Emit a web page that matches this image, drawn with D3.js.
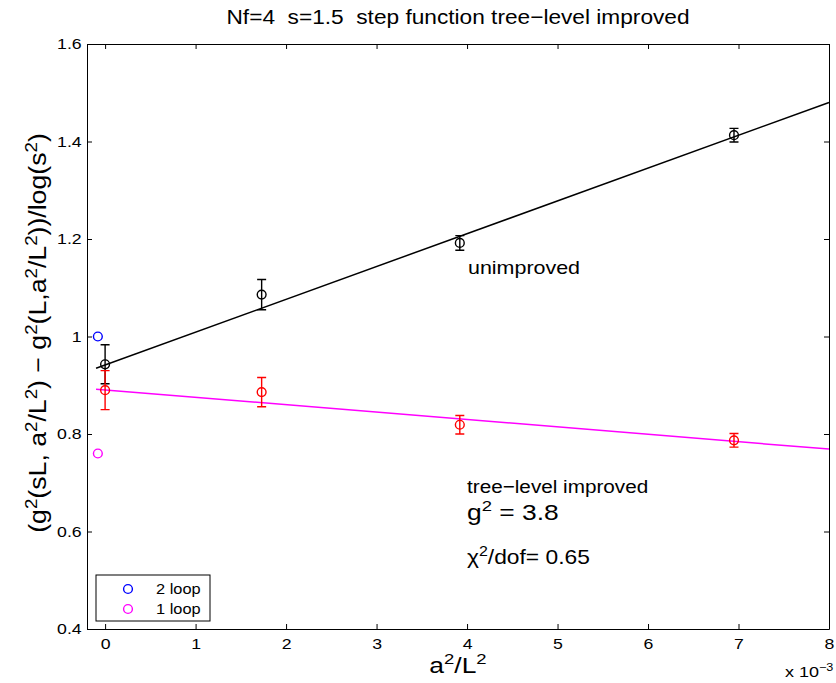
<!DOCTYPE html>
<html lang="en">
<head>
<meta charset="utf-8">
<title>step function tree-level improved</title>
<script src="https://cdn.jsdelivr.net/npm/d3@7"></script>
<style>
  body { margin: 0; background: #fff; }
  svg { display: block; font-family: "Liberation Sans", Arial, Helvetica, sans-serif; }
  .axis path, .axis line { stroke: #000; stroke-width: 1; }
  .axis text { font-size: 15px; fill: #000; }
</style>
</head>
<body>
<svg id="chart" width="836" height="683"></svg>
<script>
// data (x in units of a^2/L^2)
var xVals = [0, 0.00173, 0.00392, 0.00695];
var unimproved = [0.943, 1.086, 1.192, 1.413];
var unimprovedErr = [0.040, 0.031, 0.015, 0.014];
var treeLevel = [0.890, 0.886, 0.819, 0.787];
var treeLevelErr = [0.040, 0.030, 0.019, 0.014];

// straight line fits, end points
var fitX = [-0.0001, 0.008];
var unimprovedFit = [0.935, 1.480];
var treeLevelFit = [0.892, 0.769];

// perturbative values at the continuum
var loopX = -0.00008;
var loopLabels = ["2 loop", "1 loop"];
var loopVals = [1.0, 0.760];
var loopColors = ["#0000ff", "#ff00ff"];

var xTicks = [0, 0.001, 0.002, 0.003, 0.004, 0.005, 0.006, 0.007, 0.008];
var yTicks = [0.4, 0.6, 0.8, 1.0, 1.2, 1.4, 1.6];

var svg = d3.select("#chart"),
    pLeft = 87, pRight = 829, pTop = 44, pBottom = 629,
    wide = 1.18;   // the original font runs wider than Liberation Sans

var x = d3.scaleLinear().domain([-0.0002, 0.008]).range([pLeft, pRight]);
var y = d3.scaleLinear().domain([0.4, 1.6]).range([pBottom, pTop]);

/** axes, MATLAB style box with inward ticks */
svg.append("g").attr("class", "axis")
   .attr("transform", "translate(0," + pBottom + ")")
   .call(d3.axisBottom(x).tickValues(xTicks).tickSize(-5).tickSizeOuter(0).tickPadding(9)
         .tickFormat(function(d) { return Math.round(d * 1000); }))
   .selectAll("text").attr("transform", "scale(" + wide + ",1)");
svg.append("g").attr("class", "axis")
   .attr("transform", "translate(0," + pTop + ")")
   .call(d3.axisTop(x).tickValues(xTicks).tickSize(-5).tickSizeOuter(0).tickFormat(""));
svg.append("g").attr("class", "axis")
   .attr("transform", "translate(" + pLeft + ",0)")
   .call(d3.axisLeft(y).tickValues(yTicks).tickSize(-5).tickSizeOuter(0).tickPadding(4.5)
         .tickFormat(function(d) { return +d.toFixed(1); }))
   .selectAll("text").attr("transform", "scale(" + wide + ",1)");
svg.append("g").attr("class", "axis")
   .attr("transform", "translate(" + pRight + ",0)")
   .call(d3.axisRight(y).tickValues(yTicks).tickSize(-5).tickSizeOuter(0).tickFormat(""));

/** fit lines */
var line = d3.line().x(function(d) { return x(d[0]); }).y(function(d) { return y(d[1]); });
svg.append("path").datum(d3.zip(fitX, unimprovedFit))
   .attr("d", line).attr("fill", "none").attr("stroke", "#000").attr("stroke-width", 1.5);
svg.append("path").datum(d3.zip(fitX, treeLevelFit))
   .attr("d", line).attr("fill", "none").attr("stroke", "#ff00ff").attr("stroke-width", 1.5);

/** points with error bars */
function drawSeries(vals, errs, color) {
    var g = svg.append("g").attr("stroke", color).attr("fill", "none").attr("stroke-width", 1.4);
    var pts = d3.zip(xVals, vals, errs);
    g.selectAll(".bar").data(pts).enter().append("path")
     .attr("d", function(d) {
         var cx = x(d[0]), t = y(d[1] + d[2]), b = y(d[1] - d[2]);
         return "M" + (cx - 4.5) + "," + t + "H" + (cx + 4.5) +
                "M" + cx + "," + t + "V" + b +
                "M" + (cx - 4.5) + "," + b + "H" + (cx + 4.5);
     });
    g.selectAll("circle").data(pts).enter().append("circle")
     .attr("cx", function(d) { return x(d[0]); })
     .attr("cy", function(d) { return y(d[1]); })
     .attr("r", 4.4);
}
drawSeries(unimproved, unimprovedErr, "#000");
drawSeries(treeLevel, treeLevelErr, "#ff0000");

svg.selectAll(".loop").data(loopVals).enter().append("circle")
   .attr("cx", x(loopX)).attr("cy", function(d) { return y(d); }).attr("r", 4.4)
   .attr("fill", "none").attr("stroke-width", 1.4)
   .attr("stroke", function(_, i) { return loopColors[i]; });

/** text placed at (tx,ty), stretched sideways like the original */
function label(tx, ty, size, sx, rot) {
    return svg.append("text")
        .attr("transform", "translate(" + tx + "," + ty + ")" + (rot ? " rotate(" + rot + ")" : "") +
              " scale(" + sx + ",1)")
        .attr("font-size", size);
}

/** legend */
var lg = svg.append("g").attr("transform", "translate(96,575)");
lg.append("rect").attr("width", 114).attr("height", 46)
  .attr("fill", "#fff").attr("stroke", "#000");
loopLabels.forEach(function(lab, i) {
    lg.append("circle").attr("cx", 32).attr("cy", 14 + i * 20).attr("r", 4.4)
      .attr("fill", "none").attr("stroke", loopColors[i]).attr("stroke-width", 1.4);
    label(156, 594 + i * 20, 14.5, 1.13).text(lab);
});

/** text with superscripts: parts alternate plain / {sup} */
function supText(sel, parts, size) {
    var raised = false;
    parts.forEach(function(p) {
        var ts = sel.append("tspan");
        if (p.sup) {
            ts.attr("dy", -size * 0.4).attr("font-size", size * 0.7).text(p.sup);
            raised = true;
        } else {
            if (raised) ts.attr("dy", size * 0.4);
            raised = false;
            ts.text(p.t);
        }
    });
}

label((pLeft + pRight) / 2, 24, 21, 1.08)
   .attr("text-anchor", "middle").attr("xml:space", "preserve")
   .text("Nf=4  s=1.5  step function tree\u2212level improved");

var xl = label((pLeft + pRight) / 2, 673, 22, 1.2).attr("text-anchor", "middle");
supText(xl, [{t: "a"}, {sup: "2"}, {t: "/L"}, {sup: "2"}], 22);

var sc = label(785, 677, 15, 1.2);
supText(sc, [{t: "x 10"}, {sup: "\u22123"}], 15);

var yl = label(46, 333, 23, 1.16, -90).attr("text-anchor", "middle");
supText(yl, [{t: "(g"}, {sup: "2"}, {t: "(sL, a"}, {sup: "2"}, {t: "/L"}, {sup: "2"},
             {t: ") \u2212 g"}, {sup: "2"}, {t: "(L,a"}, {sup: "2"}, {t: "/L"}, {sup: "2"},
             {t: "))/log(s"}, {sup: "2"}, {t: ")"}], 23);

label(468, 274, 18.5, 1.16).text("unimproved");
label(467, 493, 18.5, 1.12).text("tree\u2212level improved");

var g2 = label(467, 520, 22, 1.2);
supText(g2, [{t: "g"}, {sup: "2"}, {t: " = 3.8"}], 22);

var chi = label(467, 564, 20, 1.14);
supText(chi, [{t: "\u03c7"}, {sup: "2"}, {t: "/dof= 0.65"}], 20);
</script>
</body>
</html>
